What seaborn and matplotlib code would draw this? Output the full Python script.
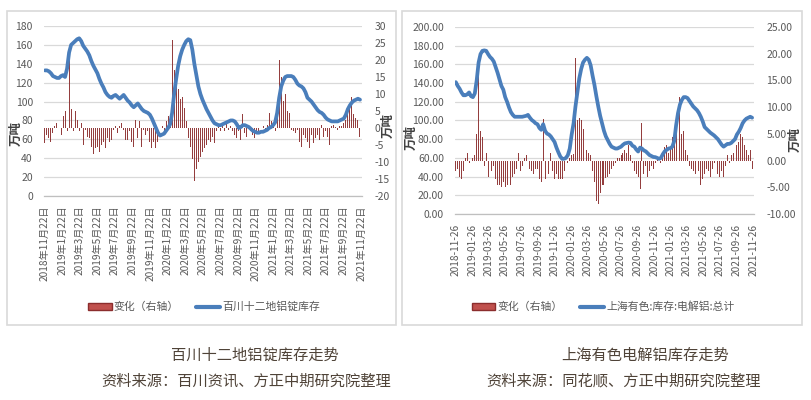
import matplotlib
matplotlib.use('Agg')
import matplotlib.pyplot as plt
import matplotlib.dates as mdates
from matplotlib.patches import Rectangle, Patch
from matplotlib.lines import Line2D
import numpy as np
import pandas as pd
import seaborn as sns

# ---------------- data ----------------
left_start = '2018-11-22'
left_stock = [133, 133, 132, 130, 127, 126, 125, 125, 127, 128,
              126, 135, 152, 160, 162, 164, 166, 167, 164, 159,
              156, 153, 149, 143, 138, 134, 130, 124, 119, 115,
              110, 107, 105, 104, 106, 107, 105, 103, 105, 107,
              104, 101, 99, 96, 94, 96, 98, 95, 92, 90,
              89, 88, 86, 82, 77, 72, 67, 64, 65, 66,
              69, 72, 76, 88, 108, 124, 138, 148, 155, 160,
              164, 166, 165, 155, 140, 128, 116, 108, 102, 97,
              92, 88, 84, 80, 77, 76, 75, 75, 76, 77,
              78, 79, 80, 80, 79, 76, 72, 73, 75, 75,
              74, 73, 71, 69, 68, 67, 67, 68, 68, 69,
              70, 72, 73, 75, 78, 88, 104, 116, 122, 126,
              127, 127, 127, 126, 123, 119, 117, 116, 114, 110,
              104, 102, 100, 97, 94, 91, 89, 88, 86, 83,
              81, 80, 79, 79, 79, 79, 80, 81, 82, 86,
              92, 96, 99, 101, 102, 103, 102]
left_change = [-4.4, -2, -3, -4, -1.5, 0.5, 1.5, -0.5, -2, 3.4,
               5, -1, 20, 5.6, -1, 5, 2.3, -1, 1.5, -5,
               -0.5, -2.5, -3, -5.5, -7.5, -6, -5.5, -7, -5, -4,
               -6, -3, -4, -3.5, -0.5, 0.5, -1.5, 0.5, 1.5, -0.5,
               -3.5, -3.5, -1, -4, -5.5, 2.5, -3, 2, -5.5, -0.5,
               -2, -1, -4, -6, -4, -6, -4, -1.5, 0.7, -1,
               2, 3.5, 1, 26, 17, 12.5, 11.5, 8.5, 9, 6,
               2, -3, -5.5, -9, -15.5, -12, -10, -8.5, -7, -6,
               -5, -3.5, -4, -2.5, -4.5, -1, 1, -1, 0.5, -1,
               1.5, -0.5, 0.5, -1, -2, -3, -1, -3.5, 4, -1.5,
               -2.5, 1, -1, -2, -3, -1.5, -1, -0.5, 0.5, -0.5,
               1, 4.3, 2, 1, -1, 7, 20, 15, 8, 10,
               5, 4.5, -0.5, -1, -1.5, -0.5, -4, -5.5, -2, -3,
               -4, -6, -2, -4.5, -3, -2, -3.5, 1, -2.5, -1,
               -2.5, -5, 0.5, 0.8, 0.3, -0.5, 0.5, 0.5, 1.5, 2.5,
               5, 6, 9, 4, 3, 2.5, -2.5]

right_start = '2018-11-26'
right_stock = [141, 137, 134, 130, 127, 127, 128, 130, 126, 125,
               129, 143, 162, 171, 174.5, 175, 174.5, 171, 168, 166,
               163, 157, 151, 144, 137, 133, 125, 120, 114, 109,
               106, 104, 104, 104, 104, 104, 104.5, 105, 106, 103,
               100.5, 99, 97, 96, 92, 90, 96, 89, 86, 85,
               83, 80, 77, 71, 66, 61.5, 59, 59, 60, 63,
               70, 85, 97, 115, 130, 145, 155, 162, 165, 167,
               165, 159, 148, 138, 126, 115, 105, 97, 89, 83,
               79, 75, 72, 71, 70, 70, 71, 72, 74, 75.5,
               76, 76.4, 76, 73, 72, 69, 66.8, 71, 70, 68,
               67, 65, 63, 62, 61, 60.8, 60, 59, 60, 64,
               67, 68.6, 70, 70.4, 72, 78, 95, 108, 117, 122,
               125, 125, 124, 121, 118, 115, 113, 111, 108, 104,
               99, 93, 91, 89, 87, 85.5, 84, 82, 80, 77,
               74, 72, 73.5, 75, 75, 76, 78, 80, 85, 88,
               92, 97, 100, 102, 103, 104, 103]
right_change = [-2, -1.5, -3, -3.5, -2, 0.5, 1.5, -0.5, -2, 0.5,
                1, 5, 18.8, 5.5, 4.5, -1, 1.5, -3, -4.5, -2,
                -1, -3.5, -4.5, -4.5, -5, -4, -5, -4.5, -3, -4.5,
                -3, -2.5, -1.5, 1.5, -2, -1, 0.5, 1, 0.5, -1.5,
                -2, -2.5, -1.5, -1.5, -3.5, -4, 7.7, -3.5, 0.5, -2.5,
                1.5, -2, -3.5, -2.5, -3.5, -3.5, -3.5, -2, -1, -0.5,
                0.5, 1, 1.2, 19.2, 7.5, 8, 7.5, 6, 3, 2,
                1.5, 1, -2, -4, -7.5, -8.2, -6, -4.5, -4.5, -3.2,
                -3, -2.5, -1.5, -1, -0.5, 0.5, 0.5, 1, 1.5, 2,
                1.5, 3, 1, -0.5, -2, -2.5, -3, -5.3, 7, -2.5,
                -1, -3, -2, -1, -1.5, -0.5, 0.5, -1.5, -0.5, 1,
                2.5, 3, 1.5, 2.5, 4.5, 4, 7, 12.9, 11.9, 5,
                5.5, 2, 1, -1, -1.5, -2, -2.5, -2.5, -2, -4.5,
                -3.5, -2.5, -1.5, -2, -3, -1.5, -0.5, -1.5, -2.5, -3,
                -2, -3, -1, 1, -0.5, 1, 1.5, 2.5, 3, 3.5,
                5, 4.5, 3, 2, 1, 2, -1.5]

left_tick_dates = ['2018-11-22', '2019-01-22', '2019-03-22', '2019-05-22', '2019-07-22',
                   '2019-09-22', '2019-11-22', '2020-01-22', '2020-03-22', '2020-05-22',
                   '2020-07-22', '2020-09-22', '2020-11-22', '2021-01-22', '2021-03-22',
                   '2021-05-22', '2021-07-22', '2021-09-22', '2021-11-22']
right_tick_dates = ['2018-11-26', '2019-01-26', '2019-03-26', '2019-05-26', '2019-07-26',
                    '2019-09-26', '2019-11-26', '2020-01-26', '2020-03-26', '2020-05-26',
                    '2020-07-26', '2020-09-26', '2020-11-26', '2021-01-26', '2021-03-26',
                    '2021-05-26', '2021-07-26', '2021-09-26', '2021-11-26']

left_titles = ['百川十二地铝锭库存走势', '资料来源：百川资讯、方正中期研究院整理']
right_titles = ['上海有色电解铝库存走势', '资料来源：同花顺、方正中期研究院整理']
bar_label = '变化（右轴）'
left_line_label = '百川十二地铝锭库存'
right_line_label = '上海有色:库存:电解铝:总计'
unit_label = '万吨'

# ---------------- style ----------------
sns.set_style('white')
plt.rcParams['font.family'] = ['Noto Sans CJK SC', 'DejaVu Sans']
plt.rcParams['axes.unicode_minus'] = False

W, H = 812, 400
BLUE = '#4a7ebb'
BAR = '#8b2d2d'
GRID = '#d9d9d9'
TXT = '#595959'

fig = plt.figure(figsize=(W / 100, H / 100), dpi=100)


def fx(px):
    return px / W


def fy(py):
    return 1 - py / H


def panel(rect_px, start, stock, change, ylim_l, lstep, ylim_r, rstep, fmt,
          tick_dates, tick_fmt, xpad_days):
    x0, y0, x1, y1 = rect_px
    ax = fig.add_axes([fx(x0), fy(y1), fx(x1 - x0), (y1 - y0) / H])
    ax2 = ax.twinx()
    dates = pd.date_range(start, periods=len(stock), freq='7D')
    xn = mdates.date2num(dates)

    # gridlines (aligned to left axis ticks) drawn behind bars
    lt = np.arange(ylim_l[0], ylim_l[1] + 0.001, lstep)
    for t in lt:
        rv = ylim_r[0] + (t - ylim_l[0]) * (ylim_r[1] - ylim_r[0]) / (ylim_l[1] - ylim_l[0])
        ax2.axhline(rv, color=GRID, lw=0.9, zorder=0)

    ax2.bar(xn, change, width=3.4, color=BAR, linewidth=0, zorder=2, alpha=0.92)
    sns.lineplot(x=xn, y=stock, ax=ax, color=BLUE, linewidth=2.7, zorder=3)

    ax.set_zorder(ax2.get_zorder() + 1)
    ax.patch.set_visible(False)

    ax.set_ylim(*ylim_l)
    ax2.set_ylim(*ylim_r)
    ax.set_yticks(lt)
    ax.set_yticklabels([fmt.format(v) for v in lt])
    rt = np.arange(ylim_r[0], ylim_r[1] + 0.001, rstep)
    ax2.set_yticks(rt)
    ax2.set_yticklabels([fmt.format(v) for v in rt])

    td = pd.to_datetime(tick_dates)
    tnum = mdates.date2num(td)
    ax.set_xlim(tnum[0] - xpad_days, tnum[-1] + xpad_days)
    ax.set_xticks(tnum)
    ax.set_xticklabels([tick_fmt(d) for d in td], rotation=90)

    for a in (ax, ax2):
        for s in a.spines.values():
            s.set_visible(False)
        a.set_xlabel('')
        a.set_ylabel('')
    ax.spines['bottom'].set_visible(True)
    ax.spines['bottom'].set_color('#bfbfbf')
    ax.spines['bottom'].set_linewidth(0.9)
    ax.tick_params(axis='x', length=4, width=0.8, color='#bfbfbf',
                   labelsize=7.3, labelcolor=TXT, pad=3)
    ax.tick_params(axis='y', length=0, labelsize=7.5, labelcolor=TXT, pad=8)
    ax2.tick_params(axis='y', length=0, labelsize=7.5, labelcolor=TXT, pad=9)
    ax.grid(False)
    ax2.grid(False)
    return ax, ax2


# left panel
panel((44, 26, 362, 196), left_start, left_stock, left_change,
      (0, 180), 20, (-20, 30), 5, '{:.0f}', left_tick_dates,
      lambda d: f'{d.year}年{d.month}月{d.day}日', 3)
# right panel
panel((455, 27, 754, 214), right_start, right_stock, right_change,
      (0, 200), 20, (-10, 25), 5, '{:.2f}', right_tick_dates,
      lambda d: d.strftime('%Y-%m-%d'), 3)

# panel frames
for (a, b, c, d) in [(7, 11, 396, 325), (402, 11, 802, 325)]:
    fig.add_artist(Rectangle((fx(a), fy(d)), fx(c - a), (d - b) / H,
                             transform=fig.transFigure, fill=False,
                             edgecolor=GRID, lw=1.2))

# unit labels
for (px, py) in [(16, 133), (388, 126), (411, 138), (795, 140)]:
    fig.text(fx(px), fy(py), unit_label, rotation=90, ha='center', va='center',
             fontsize=9, fontweight='bold', color='#404040')

# legends
for cx, lab in [(204, left_line_label), (603, right_line_label)]:
    handles = [Patch(facecolor='#c0504d', edgecolor=BAR, lw=1),
               Line2D([], [], color=BLUE, lw=3)]
    fig.legend(handles, [bar_label, lab], loc='center',
               bbox_to_anchor=(fx(cx), fy(307)), ncol=2, frameon=False,
               fontsize=7.8, labelcolor=TXT, handlelength=2.2,
               handleheight=0.7, columnspacing=1.6, handletextpad=0.2)

# captions
CAP = '#4f4338'
fig.text(fx(255), fy(355), left_titles[0], ha='center', va='center', fontsize=11, color=CAP)
fig.text(fx(246), fy(381), left_titles[1], ha='center', va='center', fontsize=11, color=CAP)
fig.text(fx(645), fy(355), right_titles[0], ha='center', va='center', fontsize=11, color=CAP)
fig.text(fx(624), fy(381), right_titles[1], ha='center', va='center', fontsize=11, color=CAP)

fig.savefig('out.png', dpi=100)
